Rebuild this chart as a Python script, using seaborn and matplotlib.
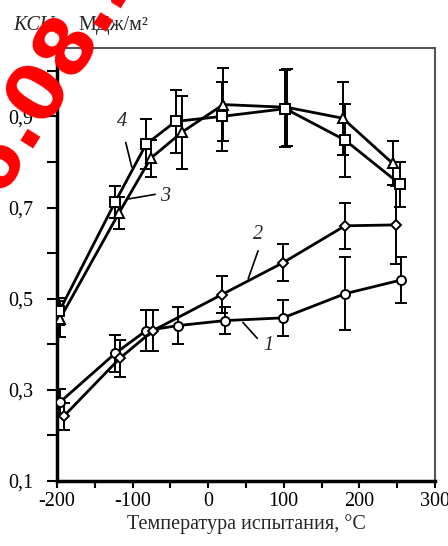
import numpy as np
import pandas as pd
import matplotlib
matplotlib.use("Agg")
import matplotlib.pyplot as plt
import seaborn as sns

# series 1 (circles), 2 (diamonds), 3 (triangles), 4 (squares)
t1 = [-196, -123, -82, -40, 22, 99, 181, 255]
k1 = [0.273, 0.380, 0.430, 0.441, 0.452, 0.458, 0.511, 0.541]
e1 = [0.030, 0.040, 0.045, 0.040, 0.030, 0.040, 0.080, 0.050]

t2 = [-191, -117, -73, 18, 99, 181, 249]
k2 = [0.242, 0.369, 0.430, 0.509, 0.579, 0.660, 0.662]
e2 = [0.030, 0.040, 0.045, 0.040, 0.040, 0.050, 0.085]

t3 = [-196, -118, -76, -35, 20, 104, 178, 244]
k3 = [0.456, 0.688, 0.808, 0.865, 0.926, 0.920, 0.896, 0.797]
e3 = [0.040, 0.035, 0.040, 0.080, 0.080, 0.085, 0.080, 0.048]

t4 = [-197, -123, -82, -43, 18, 102, 181, 254]
k4 = [0.472, 0.712, 0.839, 0.889, 0.900, 0.917, 0.848, 0.751]
e4 = [0.030, 0.035, 0.055, 0.070, 0.075, 0.085, 0.080, 0.050]

names = ['1', '2', '3', '4']
ytick_vals = [0.1, 0.3, 0.5, 0.7, 0.9]
ytick_labels = ['0,1', '0,3', '0,5', '0,7', '0,9']
xtick_vals = [-200, -100, 0, 100, 200, 300]

sns.set_theme(style='ticks')
plt.rcParams['font.family'] = ['Liberation Serif', 'DejaVu Serif']

df = pd.concat([
    pd.DataFrame({'T': t, 'KCU': k, 'err': e, 'series': n})
    for t, k, e, n in zip([t1, t2, t3, t4], [k1, k2, k3, k4], [e1, e2, e3, e4], names)
], ignore_index=True)

fig = plt.figure(figsize=(4.48, 5.46), dpi=100)
ax = fig.add_axes([0.127, 0.119, 0.844, 0.793])

for n in names:
    d = df[df['series'] == n]
    ax.errorbar(d['T'], d['KCU'], yerr=d['err'], fmt='none', ecolor='black',
                elinewidth=1.4, capsize=4.5, capthick=1.4, zorder=2)

sns.lineplot(data=df, x='T', y='KCU', hue='series', style='series',
             palette=['black'] * 4, dashes=False,
             markers={'1': 'o', '2': 'D', '3': '^', '4': 's'},
             markerfacecolor='white', markeredgecolor='black',
             markeredgewidth=1.4, linewidth=2, sort=True, estimator=None,
             legend=False, ax=ax, zorder=3)
msize = {'1': 6.5, '2': 5.5, '3': 7, '4': 7.5}
for line, n in zip(ax.lines[-4:], names):
    line.set_zorder(3)
    line.set_markersize(msize[n])

ax.set_xlim(-200, 300)
ax.set_ylim(0.1, 1.05)
ax.set_xticks(xtick_vals)
ax.set_xticks([-150, -50, 50, 150, 250], minor=True)
ax.set_xticklabels(['-200', '-100', '0', '100', '200', '300'])
ax.set_yticks(ytick_vals)
ax.set_yticklabels(ytick_labels)
ax.set_yticks([0.2, 0.4, 0.6, 0.8, 1.0], minor=True)
ax.tick_params(axis='both', which='both', direction='out', length=5, width=1.5,
               colors='black', labelsize=14.5, pad=3)
ax.tick_params(axis='y', which='both', length=7, pad=10)

for s in ['left', 'bottom']:
    ax.spines[s].set_linewidth(2.5)
    ax.spines[s].set_color('black')
for s in ['top', 'right']:
    ax.spines[s].set_linewidth(1.5)
    ax.spines[s].set_color('#555555')

ax.set_xlabel('Температура испытания, °C', fontsize=14.5, labelpad=2)
ax.set_ylabel('')

# curve labels with leader lines
lab = dict(fontsize=14.5, style='italic', ha='center', va='center')
ax.text(-114, 0.889, '4', **lab)
ax.plot([-109, -101], [0.843, 0.789], color='black', lw=1.2)
ax.text(-57, 0.725, '3', **lab)
ax.plot([-70, -105], [0.729, 0.719], color='black', lw=1.2)
ax.text(66, 0.642, '2', **lab)
ax.plot([66, 53], [0.605, 0.544], color='black', lw=1.2)
ax.text(79, 0.397, '1', **lab)
ax.plot([65, 46], [0.413, 0.448], color='black', lw=1.2)

fig.text(0.029, 0.945, 'KCU,', fontsize=14.5, style='italic')
fig.text(0.174, 0.945, 'МДж/м²', fontsize=14.5)

# red watermark
fig.text(53 / 448, 1 - 66 / 546, '26.08.20', rotation=58, color='red',
         fontweight='bold', fontsize=56, ha='center', va='center',
         rotation_mode='anchor', family='DejaVu Sans', zorder=10)

fig.savefig('out.png', dpi=100)
